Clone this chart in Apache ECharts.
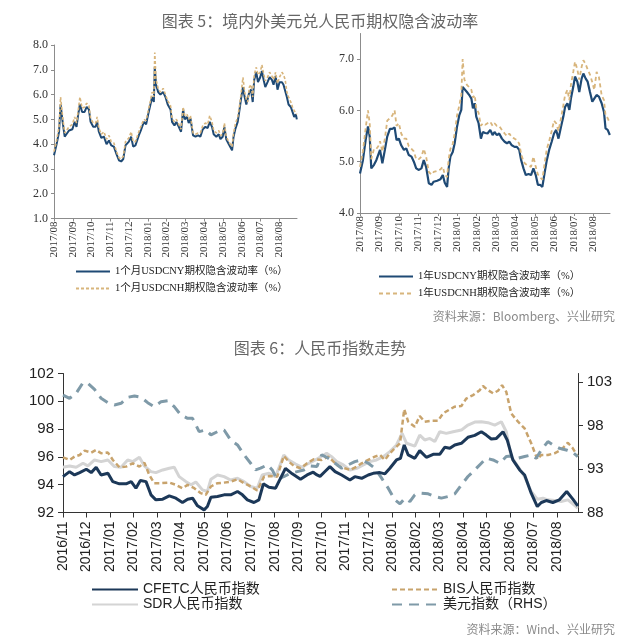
<!DOCTYPE html>
<html>
<head>
<meta charset="utf-8">
<script src="https://cdn.jsdelivr.net/npm/echarts@6/dist/echarts.min.js"></script>
<style>html,body{margin:0;padding:0;background:#fff;}#c{width:640px;height:642px;}</style>
</head>
<body>
<div id="c"></div>
<script>
// ---------- Data ----------
const topTickLabels = ['2017/08','2017/09','2017/10','2017/11','2017/12','2018/01','2018/02','2018/03','2018/04','2018/05','2018/06','2018/07','2018/08'];
const bottomTickLabels = ['2016/11','2016/12','2017/01','2017/02','2017/03','2017/04','2017/05','2017/06','2017/07','2017/08','2017/09','2017/10','2017/11','2017/12','2018/01','2018/02','2018/03','2018/04','2018/05','2018/06','2018/07','2018/08'];

// Chart 1: 1-month implied vol (months since 2017/08)
const m1Pos = [0,0.14,0.27,0.35,0.46,0.57,0.67,0.8,0.98,1.1,1.2,1.29,1.38,1.5,1.63,1.74,1.86,1.95,2.09,2.22,2.3,2.39,2.52,2.66,2.8,2.93,3.05,3.19,3.33,3.46,3.58,3.69,3.81,3.99,4.11,4.22,4.34,4.43,4.52,4.65,4.79,4.91,5.02,5.14,5.23,5.32,5.37,5.44,5.55,5.67,5.82,5.94,6.06,6.21,6.29,6.42,6.52,6.65,6.77,6.88,6.97,7.09,7.18,7.27,7.41,7.54,7.68,7.8,7.93,8.07,8.19,8.3,8.42,8.51,8.65,8.78,8.87,8.99,9.08,9.18,9.31,9.4,9.49,9.57,9.66,9.79,9.89,9.98,10.07,10.16,10.25,10.32,10.41,10.5,10.59,10.67,10.78,10.87,10.99,11.08,11.17,11.26,11.38,11.49,11.61,11.7,11.81,11.91,12.02,12.15,12.23,12.32,12.41,12.5,12.62,12.71,12.8,12.89,12.94];
const cny1m = [3.55,4.0,4.5,5.6,4.9,4.3,4.25,4.55,4.6,4.9,4.7,5.2,5.6,5.3,5.3,5.5,5.4,4.9,4.7,4.7,4.9,4.5,4.25,4.3,4.0,4.15,3.95,3.9,3.6,3.35,3.3,3.4,3.95,4.1,4.3,3.9,3.95,3.9,4.35,4.6,4.9,4.8,5.2,5.6,5.9,5.7,7.1,6.4,6.1,6.0,6.1,5.9,5.6,5.4,4.9,4.75,4.9,4.7,4.5,5.4,5.0,5.1,4.85,5.05,4.35,4.3,4.35,4.3,4.6,4.7,4.65,4.9,4.7,4.4,4.3,4.4,4.2,4.3,4.7,4.2,4.0,4.05,3.75,4.3,4.6,4.9,5.4,5.9,6.3,5.9,5.6,5.55,6.1,6.2,5.7,6.6,6.9,6.5,6.7,6.95,6.6,6.3,6.5,6.7,6.6,6.4,6.75,6.2,6.5,6.5,6.4,6.4,5.9,5.6,5.5,5.3,5.1,5.2,5.0];
const cnh1m = [3.7,4.15,4.7,5.9,5.1,4.45,4.4,4.7,4.8,5.1,4.85,5.35,5.9,5.45,5.5,5.65,5.55,5.05,4.85,4.85,5.1,4.65,4.4,4.5,4.2,4.35,4.1,4.05,3.7,3.45,3.4,3.5,4.1,4.25,4.5,4.1,4.1,4.05,4.5,4.75,5.0,4.95,5.35,5.75,6.1,5.9,7.7,6.6,6.25,6.1,6.25,6.0,5.75,5.55,5.05,4.9,5.0,4.8,4.6,5.5,5.15,5.2,5.0,5.15,4.45,4.4,4.45,4.45,4.75,4.85,4.8,5.15,4.9,4.55,4.45,4.55,4.35,4.4,4.85,4.3,4.1,4.15,3.9,4.45,4.8,5.1,5.55,6.1,6.7,6.1,5.8,5.7,6.3,6.4,5.9,6.8,7.1,6.8,6.9,7.2,6.85,6.55,6.7,6.9,6.75,6.6,6.9,6.45,6.7,6.9,6.8,6.6,6.1,5.9,5.7,5.5,5.35,5.4,5.2];

// Chart 2: 1-year implied vol (months since 2017/08)
const y1Pos = [0,0.15,0.29,0.41,0.5,0.58,0.72,0.84,0.94,1.03,1.15,1.28,1.4,1.54,1.66,1.78,1.88,2.0,2.12,2.26,2.38,2.51,2.65,2.77,2.89,3.03,3.16,3.28,3.4,3.54,3.68,3.79,3.97,4.14,4.26,4.36,4.48,4.56,4.65,4.77,4.87,4.99,5.11,5.21,5.28,5.37,5.5,5.62,5.73,5.81,5.9,5.98,6.1,6.22,6.32,6.44,6.56,6.7,6.82,6.92,7.04,7.16,7.3,7.44,7.56,7.68,7.81,7.95,8.07,8.19,8.29,8.41,8.53,8.67,8.8,8.92,9.04,9.15,9.26,9.38,9.49,9.61,9.73,9.86,9.98,10.09,10.21,10.34,10.46,10.55,10.67,10.77,10.85,10.97,11.06,11.18,11.28,11.4,11.49,11.61,11.71,11.83,11.95,12.05,12.17,12.29,12.43,12.55,12.63,12.74,12.85];
const cny1y = [4.77,5.03,5.42,5.69,5.49,4.87,4.94,5.03,5.0,5.23,4.97,5.23,5.49,5.64,5.64,5.67,5.42,5.45,5.32,5.23,5.26,5.13,5.1,5.0,4.87,4.84,4.87,5.03,4.9,4.58,4.55,4.61,4.63,4.66,4.74,4.59,4.51,4.87,5.1,5.19,5.36,5.68,5.91,6.01,6.46,6.43,6.36,6.3,6.23,6.04,6.14,5.88,5.75,5.45,5.58,5.56,5.55,5.62,5.52,5.58,5.52,5.55,5.45,5.39,5.36,5.39,5.32,5.29,5.29,5.23,5.03,4.87,4.74,4.76,4.74,4.87,4.74,4.55,4.55,4.51,4.77,5.03,5.23,5.39,5.55,5.62,5.45,5.68,5.88,6.07,6.14,6.01,6.23,6.46,6.66,6.56,6.36,6.62,6.72,6.62,6.56,6.36,6.17,6.23,6.3,6.27,6.14,5.97,5.65,5.62,5.52];
const cnh1y = [4.9,5.2,5.65,6.0,5.75,5.05,5.25,5.25,5.3,5.4,5.2,5.45,5.8,5.85,5.9,6.0,5.7,5.75,5.55,5.45,5.45,5.3,5.25,5.2,5.05,5.05,5.1,5.25,5.1,4.8,4.75,4.8,4.82,4.85,4.9,4.75,4.7,5.05,5.25,5.35,5.55,5.9,6.1,6.3,7.0,6.6,6.5,6.45,6.4,6.25,6.3,6.05,5.95,5.7,5.75,5.72,5.75,5.78,5.7,5.75,5.7,5.7,5.62,5.55,5.5,5.55,5.48,5.45,5.42,5.35,5.15,5.0,4.95,4.92,4.9,5.1,4.9,4.75,4.7,4.65,4.95,5.25,5.4,5.6,5.8,5.75,5.6,5.85,6.1,6.3,6.4,6.2,6.5,6.75,6.95,6.8,6.6,6.85,6.98,6.9,6.8,6.7,6.55,6.4,6.75,6.65,6.3,6.2,5.9,5.85,5.75];

// Chart 3: RMB indices (months since 2016/11)
const cfetcPos = [0,0.28,0.49,0.71,0.99,1.2,1.41,1.62,1.91,2.12,2.4,2.68,2.9,3.1,3.29,3.53,3.74,3.95,4.24,4.52,4.8,5.08,5.3,5.51,5.72,6.0,6.14,6.29,6.57,6.85,7.13,7.42,7.63,7.84,8.12,8.33,8.52,8.76,9.04,9.46,9.75,10.1,10.38,10.64,10.8,10.93,11.14,11.35,11.57,11.85,12.2,12.41,12.7,12.98,13.19,13.48,13.69,13.9,14.18,14.35,14.51,14.68,14.96,15.17,15.45,15.74,16.02,16.23,16.45,16.66,16.94,17.22,17.51,17.79,18.0,18.21,18.43,18.71,18.89,19.13,19.42,19.63,19.91,20.17,20.34,20.55,20.83,21.11,21.42,21.68,21.89];
const cfetc = [94.58,94.94,94.70,94.87,95.11,94.87,95.25,94.70,94.82,94.22,94.06,94.06,94.22,93.75,94.30,94.22,93.27,92.91,92.96,93.20,93.03,92.72,92.96,93.03,92.48,92.19,92.43,93.10,93.15,93.27,93.27,93.51,93.27,92.91,92.72,92.91,94.06,93.82,93.75,95.18,94.78,94.39,94.70,94.9,94.7,94.6,94.95,95.3,94.94,94.70,94.34,94.58,94.46,94.70,94.82,94.87,94.78,95.18,95.78,95.9,96.86,96.14,95.90,96.45,95.97,96.19,96.19,96.69,96.62,96.86,96.98,97.41,97.55,97.81,97.57,97.29,97.33,97.81,97.22,95.78,95.06,94.70,93.39,92.43,92.72,92.86,92.72,92.91,93.51,92.96,92.48];
const sdrPos = [0,0.28,0.56,0.85,1.06,1.34,1.62,1.91,2.19,2.47,2.75,2.97,3.25,3.46,3.74,3.95,4.24,4.52,4.73,4.94,5.23,5.44,5.65,5.93,6.14,6.29,6.57,6.85,7.13,7.42,7.7,7.98,8.26,8.47,8.76,9.04,9.39,9.6,9.89,10.17,10.45,10.73,11.21,11.42,11.64,11.92,12.2,12.49,12.77,13.05,13.33,13.62,13.9,14.18,14.42,14.61,14.96,15.17,15.38,15.6,15.81,16.02,16.3,16.59,16.94,17.22,17.51,17.79,18.07,18.36,18.64,18.85,19.06,19.35,19.63,19.91,20.17,20.41,20.62,20.9,21.18,21.47,21.68,21.89];
const sdr = [95.25,95.35,95.25,95.54,95.35,95.78,95.66,95.78,95.30,95.25,95.78,95.66,95.97,95.35,94.94,94.87,95.06,95.18,95.25,94.58,94.22,93.99,94.2,93.63,93.51,94.39,94.70,94.58,94.34,94.46,94.22,93.87,93.75,94.70,94.82,94.58,96.14,95.78,95.49,95.25,95.54,95.78,96.26,96.02,95.66,95.42,95.06,95.18,95.42,95.66,95.78,96.02,96.38,96.86,97.69,96.98,96.78,97.57,97.22,97.33,97.10,97.81,97.69,97.81,97.93,98.29,98.51,98.53,98.46,98.29,98.53,97.81,96.02,95.30,94.58,93.51,92.96,93.03,92.91,92.86,92.79,92.91,92.62,92.31];
const bisPos = [0,0.28,0.49,0.71,0.92,1.2,1.41,1.62,1.91,2.12,2.4,2.68,2.97,3.25,3.46,3.67,3.88,4.17,4.52,4.8,5.08,5.3,5.58,5.86,6.07,6.29,6.57,6.85,7.13,7.42,7.7,7.98,8.26,8.55,8.83,9.11,9.39,9.6,9.82,10.1,10.38,10.66,11.0,11.28,11.5,11.71,11.99,12.2,12.49,12.7,12.98,13.26,13.48,13.69,13.9,14.11,14.33,14.51,14.68,14.96,15.17,15.38,15.67,15.95,16.16,16.45,16.66,16.94,17.15,17.44,17.72,17.86,18.07,18.29,18.5,18.67,18.85,19.06,19.35,19.63,19.91,20.17,20.34,20.62,20.9,21.18,21.47,21.68,21.89];
const bis = [95.97,95.78,96.02,96.14,96.45,96.31,96.50,96.26,96.31,95.78,95.25,95.30,95.54,95.30,95.59,94.70,94.11,94.11,94.15,93.99,93.75,93.99,93.75,93.39,93.27,93.87,94.11,94.15,94.22,94.39,94.11,93.87,93.58,94.58,94.63,94.58,96.07,95.66,95.35,95.18,95.54,95.83,95.78,96.02,95.66,95.35,95.18,95.06,95.30,95.54,95.78,96.02,96.14,95.78,96.26,96.62,96.98,99.42,98.53,98.17,98.94,98.53,98.60,98.60,99.13,99.42,99.61,99.66,100.2,100.45,100.8,101.1,100.8,100.57,100.76,101.16,100.68,99.13,98.53,98.05,96.98,95.83,96.14,96.14,96.26,96.50,97.02,96.62,96.02];
const usdPos = [0,0.28,0.56,0.85,1.06,1.34,1.62,1.91,2.19,2.47,2.75,3.04,3.32,3.6,3.88,4.17,4.45,4.73,5.01,5.3,5.51,5.79,6.07,6.29,6.57,6.85,7.13,7.42,7.7,7.98,8.19,8.4,8.69,8.9,9.11,9.39,9.68,9.96,10.24,10.52,10.8,11.0,11.28,11.57,11.85,12.13,12.41,12.7,12.98,13.26,13.55,13.83,14.11,14.33,14.54,14.75,14.96,15.24,15.53,15.81,16.09,16.38,16.66,16.94,17.22,17.51,17.79,18.0,18.29,18.57,18.85,19.06,19.35,19.63,19.91,20.12,20.34,20.62,20.83,21.11,21.4,21.68,21.89];
const usd = [101.52,101.14,101.72,102.94,102.87,102.18,101.14,100.64,100.38,100.57,101.26,101.41,101.26,100.64,100.18,100.76,100.87,100.18,99.23,98.84,98.84,97.31,97.50,96.93,97.31,97.50,96.35,95.78,94.63,93.67,92.90,93.10,93.48,92.90,91.75,92.14,92.52,92.71,92.90,93.36,93.29,94.63,94.25,93.67,93.10,93.48,93.86,94.05,93.67,93.10,91.95,90.80,89.46,89.00,89.65,89.26,90.03,90.22,90.15,89.84,89.65,89.84,90.15,91.18,92.14,92.90,93.67,94.25,94.05,93.67,94.44,94.51,94.25,94.44,94.63,94.25,95.20,96.16,95.78,95.39,95.20,94.90,94.44];

// ---------- Build ----------
const zip = (a, b) => a.map((x, i) => [x, b[i]]);
const SERIF = "'Liberation Serif','Noto Sans CJK SC',serif";
const SANS = "'Liberation Sans','Noto Sans CJK SC',sans-serif";
const CJK = "'Noto Sans CJK SC',sans-serif";
const greyAxis = {lineStyle: {color: '#8c8c8c', width: 1}};
const darkAxis = {lineStyle: {color: '#333', width: 1}};

function topX(grid, max) {
  return {
    type: 'value', gridIndex: grid, min: 0, max: max,
    axisLine: {show: true, onZero: false, ...greyAxis},
    axisTick: {show: true, length: 3, customValues: topTickLabels.map((_, i) => i), lineStyle: {color: '#8c8c8c'}},
    axisLabel: {customValues: topTickLabels.map((_, i) => i), rotate: 90, margin: 3, fontFamily: SERIF, fontSize: 11, color: '#333',
      formatter: v => topTickLabels[Math.round(v)]},
    splitLine: {show: false}
  };
}

const legendBase = {orient: 'vertical', itemHeight: 8, itemStyle: {opacity: 0, borderWidth: 0}};

const option = {
  backgroundColor: '#fff',
  animation: false,
  title: [
    {text: '图表 5：境内外美元兑人民币期权隐含波动率', left: 'center', top: 8, textStyle: {fontFamily: CJK, fontSize: 16, fontWeight: 'normal', color: '#666'}},
    {text: '图表 6：人民币指数走势', left: 'center', top: 335, textStyle: {fontFamily: CJK, fontSize: 16, fontWeight: 'normal', color: '#666'}},
    {text: '资料来源：Bloomberg、兴业研究', right: 20, top: 305, textStyle: {fontFamily: CJK, fontSize: 12, fontWeight: 'normal', color: '#8a8a8a'}},
    {text: '资料来源：Wind、兴业研究', right: 20, top: 618, textStyle: {fontFamily: CJK, fontSize: 12, fontWeight: 'normal', color: '#8a8a8a'}}
  ],
  legend: [
    {...legendBase, left: 70, top: 260, itemWidth: 34, itemGap: 4,
      textStyle: {fontFamily: SERIF, fontSize: 10.5, color: '#222', lineHeight: 13},
      data: ['1个月USDCNY期权隐含波动率（%）', '1个月USDCNH期权隐含波动率（%）']},
    {...legendBase, left: 373, top: 265, itemWidth: 34, itemGap: 4,
      textStyle: {fontFamily: SERIF, fontSize: 10.5, color: '#222', lineHeight: 13},
      data: ['1年USDCNY期权隐含波动率（%）', '1年USDCNH期权隐含波动率（%）']},
    {...legendBase, left: 86, top: 577, itemWidth: 46, itemGap: 0,
      textStyle: {fontFamily: SANS, fontSize: 14, color: '#222', lineHeight: 15},
      data: ['CFETC人民币指数', 'SDR人民币指数']},
    {...legendBase, left: 386, top: 577, itemWidth: 46, itemGap: 0,
      textStyle: {fontFamily: SANS, fontSize: 14, color: '#222', lineHeight: 15},
      data: ['BIS人民币指数', '美元指数（RHS）']}
  ],
  grid: [
    {left: 54, top: 45, width: 243, height: 173.5, outerBoundsMode: 'none'},
    {left: 360, top: 33.5, width: 250, height: 179.5, outerBoundsMode: 'none'},
    {left: 63, top: 373.5, width: 515, height: 139, outerBoundsMode: 'none'}
  ],
  xAxis: [
    topX(0, 12.95),
    topX(1, 12.86),
    {
      type: 'value', gridIndex: 2, min: 0, max: 21.9,
      axisLine: {show: true, onZero: false, ...darkAxis},
      axisTick: {show: true, length: 5, customValues: bottomTickLabels.map((_, i) => i), lineStyle: {color: '#333'}},
      axisLabel: {customValues: bottomTickLabels.map((_, i) => i), rotate: 90, margin: 9, fontFamily: SANS, fontSize: 14, color: '#222',
        formatter: v => bottomTickLabels[Math.round(v)]},
      splitLine: {show: false}
    }
  ],
  yAxis: [
    {type: 'value', gridIndex: 0, min: 1, max: 8, interval: 1,
      axisLine: {show: true, ...greyAxis}, axisTick: {show: true, length: 3, lineStyle: {color: '#8c8c8c'}},
      axisLabel: {fontFamily: SERIF, fontSize: 12, color: '#333', margin: 6, formatter: v => v.toFixed(1)},
      splitLine: {show: false}},
    {type: 'value', gridIndex: 1, min: 4, max: 7.5,
      axisLine: {show: true, ...greyAxis}, axisTick: {show: true, length: 3, customValues: [4, 5, 6, 7], lineStyle: {color: '#8c8c8c'}},
      axisLabel: {customValues: [4, 5, 6, 7], fontFamily: SERIF, fontSize: 12, color: '#333', margin: 6, formatter: v => v.toFixed(1)},
      splitLine: {show: false}},
    {type: 'value', gridIndex: 2, min: 92, max: 102, interval: 2,
      axisLine: {show: true, ...darkAxis}, axisTick: {show: true, length: 5, lineStyle: {color: '#333'}},
      axisLabel: {fontFamily: SANS, fontSize: 15, color: '#222', margin: 9},
      splitLine: {show: false}},
    {type: 'value', gridIndex: 2, position: 'right', min: 88, max: 104,
      axisLine: {show: true, ...darkAxis}, axisTick: {show: true, length: 5, customValues: [88, 93, 98, 103], lineStyle: {color: '#333'}},
      axisLabel: {customValues: [88, 93, 98, 103], fontFamily: SANS, fontSize: 15, color: '#222', margin: 9},
      splitLine: {show: false}}
  ],
  series: [
    {name: '1个月USDCNY期权隐含波动率（%）', type: 'line', xAxisIndex: 0, yAxisIndex: 0, data: zip(m1Pos, cny1m),
      showSymbol: false, symbol: 'none', lineStyle: {color: '#1f4a75', width: 2}, itemStyle: {color: '#1f4a75'}},
    {name: '1个月USDCNH期权隐含波动率（%）', type: 'line', xAxisIndex: 0, yAxisIndex: 0, data: zip(m1Pos, cnh1m),
      showSymbol: false, symbol: 'none', lineStyle: {color: '#d8b57c', width: 1.6, type: [3, 2]}, itemStyle: {color: '#d8b57c'}},
    {name: '1年USDCNY期权隐含波动率（%）', type: 'line', xAxisIndex: 1, yAxisIndex: 1, data: zip(y1Pos, cny1y),
      showSymbol: false, symbol: 'none', lineStyle: {color: '#1f4a75', width: 2.2}, itemStyle: {color: '#1f4a75'}},
    {name: '1年USDCNH期权隐含波动率（%）', type: 'line', xAxisIndex: 1, yAxisIndex: 1, data: zip(y1Pos, cnh1y),
      showSymbol: false, symbol: 'none', lineStyle: {color: '#d8b57c', width: 1.8, type: [4, 3]}, itemStyle: {color: '#d8b57c'}},
    {name: 'SDR人民币指数', type: 'line', xAxisIndex: 2, yAxisIndex: 2, data: zip(sdrPos, sdr),
      showSymbol: false, symbol: 'none', lineStyle: {color: '#d4d4d4', width: 3}, itemStyle: {color: '#d4d4d4'}},
    {name: 'BIS人民币指数', type: 'line', xAxisIndex: 2, yAxisIndex: 2, data: zip(bisPos, bis),
      showSymbol: false, symbol: 'none', lineStyle: {color: '#c8a36c', width: 2.5, type: [5, 3]}, itemStyle: {color: '#c8a36c'}},
    {name: '美元指数（RHS）', type: 'line', xAxisIndex: 2, yAxisIndex: 3, data: zip(usdPos, usd),
      showSymbol: false, symbol: 'none', lineStyle: {color: '#7f9aa8', width: 3, type: [10, 7]}, itemStyle: {color: '#7f9aa8'}},
    {name: 'CFETC人民币指数', type: 'line', xAxisIndex: 2, yAxisIndex: 2, data: zip(cfetcPos, cfetc),
      showSymbol: false, symbol: 'none', lineStyle: {color: '#1c3858', width: 3}, itemStyle: {color: '#1c3858'}}
  ]
};

const chart = echarts.init(document.getElementById('c'), null, {renderer: 'canvas'});
chart.setOption(option);
</script>
</body>
</html>
